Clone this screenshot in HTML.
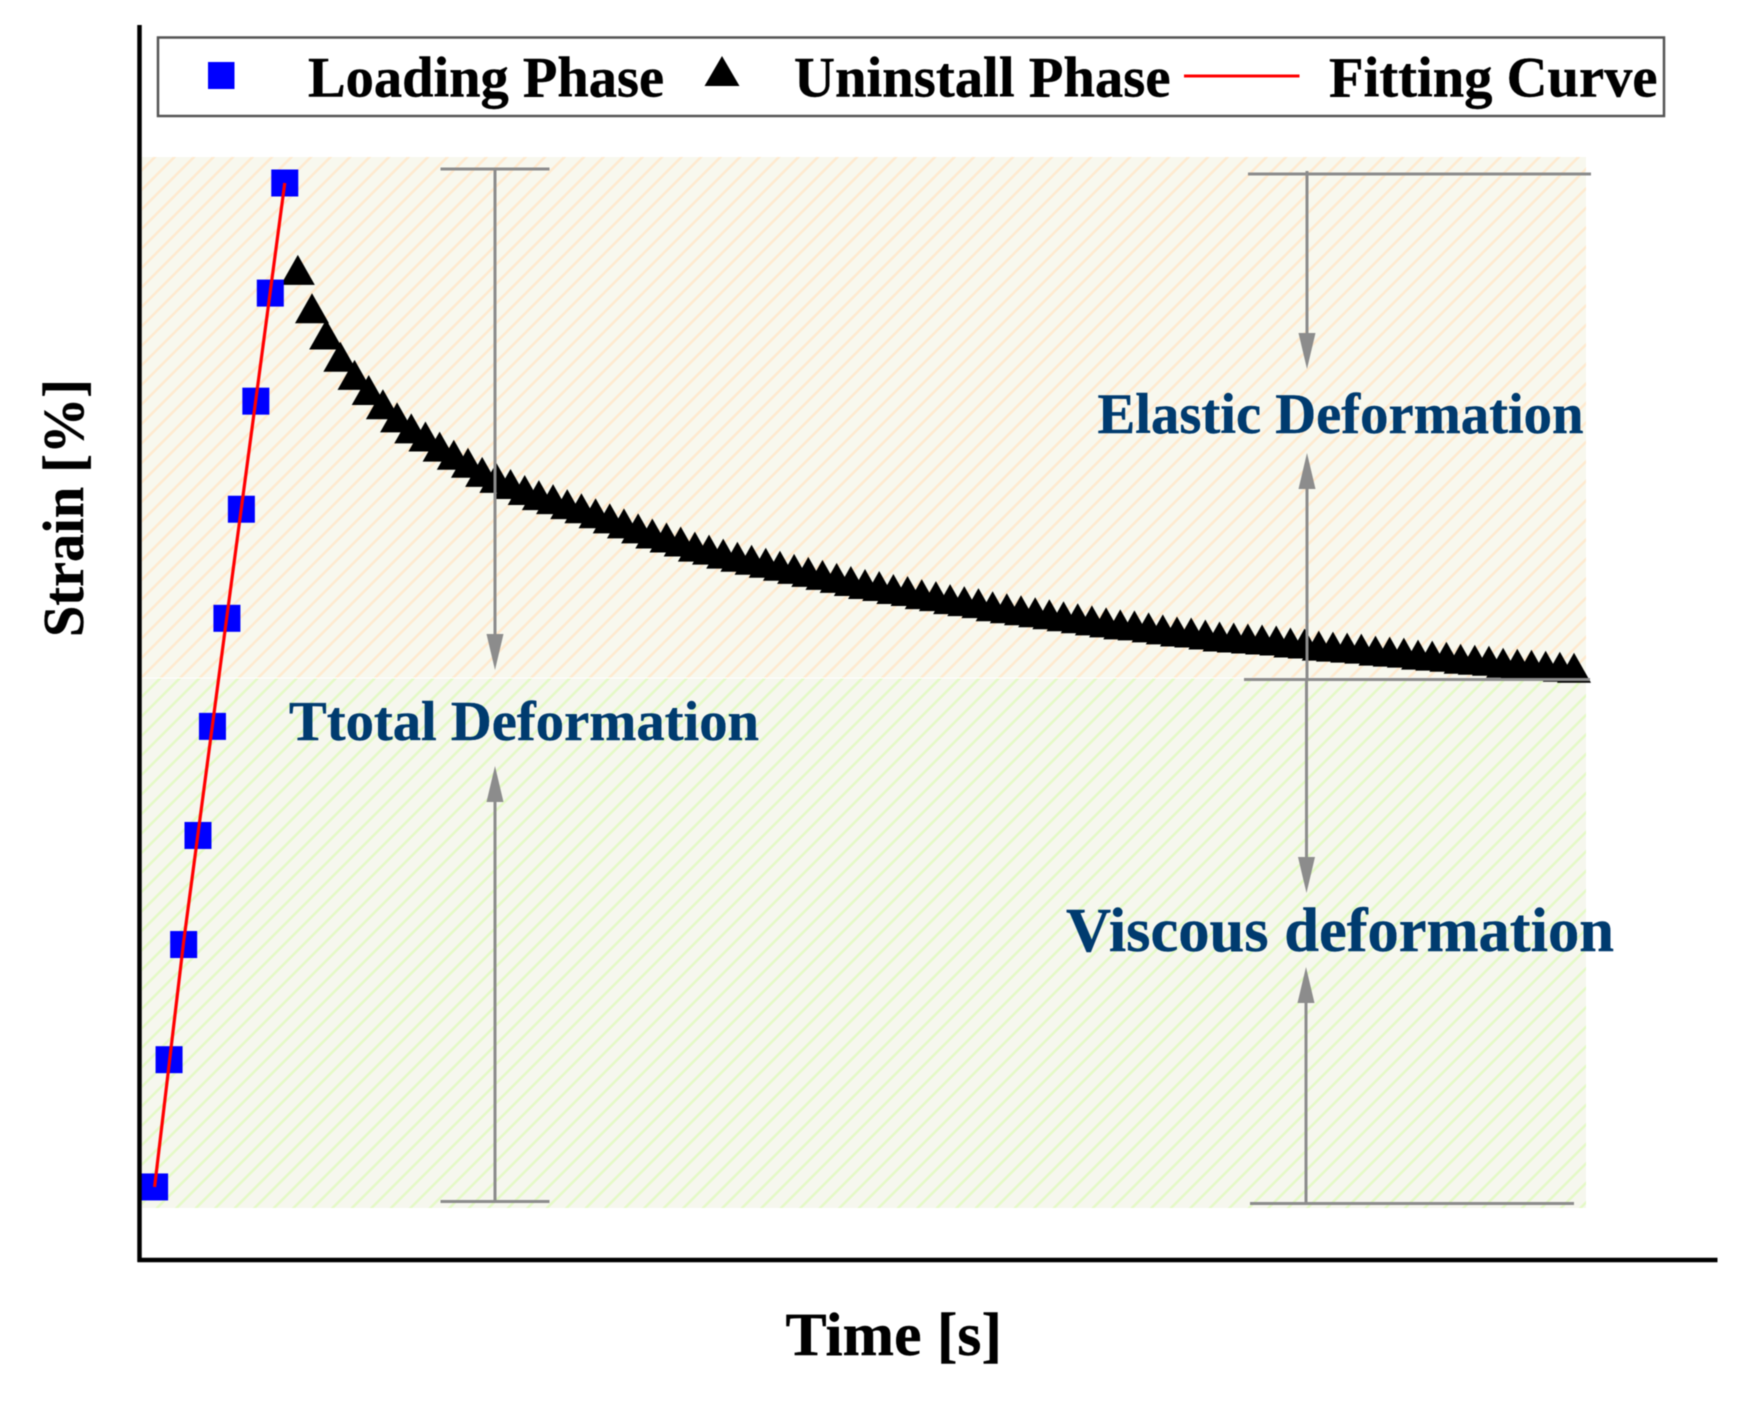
<!DOCTYPE html>
<html lang="en">
<head>
<meta charset="utf-8">
<title>Strain vs Time</title>
<style>
html,body{margin:0;padding:0;background:#fff;width:1744px;height:1415px;overflow:hidden}
svg{display:block;filter:blur(0.5px)}
text{font-family:"Liberation Serif",serif;font-weight:bold;stroke-width:.4px}
.anno{fill:#003b6f;stroke:#003b6f}
.blk{fill:#000;stroke:#000}
.grey{stroke:#8c8c8c;stroke-width:3;fill:none}
.head{fill:#8c8c8c}
</style>
</head>
<body>
<svg id="chart" xmlns="http://www.w3.org/2000/svg" width="1744" height="1415" viewBox="0 0 1744 1415">
  <defs>
    <pattern id="hatch-orange" patternUnits="userSpaceOnUse" width="19.5" height="19.5">
      <rect width="19.5" height="19.5" fill="#f8f8ee"/>
      <path d="M-2,2 L2,-2 M0,19.5 L19.5,0 M17.5,21.5 L21.5,17.5" stroke="#feeacf" stroke-width="2.4"/>
    </pattern>
    <pattern id="hatch-green" patternUnits="userSpaceOnUse" width="19.5" height="19.5">
      <rect width="19.5" height="19.5" fill="#f6f7ee"/>
      <path d="M-2,2 L2,-2 M0,19.5 L19.5,0 M17.5,21.5 L21.5,17.5" stroke="#e4f9c6" stroke-width="2.4"/>
    </pattern>
  </defs>

  <rect x="142" y="157" width="1444" height="520.500" fill="url(#hatch-orange)"/>
  <rect x="142" y="678.500" width="1444" height="529.500" fill="url(#hatch-green)"/>

  <g id="marks"></g>

  <g>
    <path class="grey" d="M440.500,169H549.500"/>
    <path class="grey" d="M495,169V638"/>
    <path class="head" d="M486.500,634H503.500L495,670Z"/>
    <path class="grey" d="M495,797V1201.500"/>
    <path class="head" d="M486.500,802H503.500L495,766Z"/>
    <path class="grey" d="M440.500,1201.500H549.500"/>
  </g>
  <g>
    <path class="grey" d="M1248,174H1591"/>
    <path class="grey" d="M1307,171V338"/>
    <path class="head" d="M1298.500,333H1315.500L1307,369Z"/>
    <path class="grey" d="M1307,484V680"/>
    <path class="head" d="M1298.500,489H1315.500L1307,453Z"/>
    <path class="grey" d="M1244,679.500H1590"/>
  </g>
  <g>
    <path class="grey" d="M1306.500,680V862"/>
    <path class="head" d="M1298,857H1315L1306.500,893Z"/>
    <path class="grey" d="M1306,998V1204"/>
    <path class="head" d="M1297.500,1003H1314.500L1306,967Z"/>
    <path class="grey" d="M1250,1203.500H1574"/>
  </g>

  <text class="anno" x="1097.500" y="433" font-size="57" textLength="486" lengthAdjust="spacingAndGlyphs">Elastic Deformation</text>
  <text class="anno" x="289" y="740" font-size="56.500" textLength="470" lengthAdjust="spacingAndGlyphs">Ttotal Deformation</text>
  <text class="anno" x="1066" y="951" font-size="62" textLength="548" lengthAdjust="spacingAndGlyphs">Viscous deformation</text>

  <path d="M139.500,25V1262" stroke="#000" stroke-width="4.500" fill="none"/>
  <path d="M137.500,1260H1717.500" stroke="#000" stroke-width="4.500" fill="none"/>
  <text class="blk" x="785.500" y="1355" font-size="61" textLength="216.500" lengthAdjust="spacingAndGlyphs">Time [s]</text>
  <text class="blk" transform="translate(83,637) rotate(-90)" font-size="58" textLength="258" lengthAdjust="spacingAndGlyphs">Strain [%]</text>

  <g>
    <rect x="158" y="37.500" width="1506" height="78.500" fill="#fff" stroke="#555" stroke-width="2.500"/>
    <rect x="208" y="62" width="26.500" height="27" fill="#0000ff"/>
    <text class="blk" x="308" y="96.500" font-size="57" textLength="356" lengthAdjust="spacingAndGlyphs">Loading Phase</text>
    <path d="M704.500,86H739.500L722,56Z" fill="#000"/>
    <text class="blk" x="794" y="96.500" font-size="57" textLength="376.500" lengthAdjust="spacingAndGlyphs">Uninstall Phase</text>
    <path d="M1184,76H1299.500" stroke="#ff0000" stroke-width="3" fill="none"/>
    <text class="blk" x="1329" y="96.500" font-size="57" textLength="328.500" lengthAdjust="spacingAndGlyphs">Fitting Curve</text>
  </g>
</svg>
<script>
const loadingTime = [0, 1.02, 2.05, 3.06, 4.08, 5.1, 6.12, 7.14, 8.16, 9.18];
const loadingStrain = [0.6, 13.2, 24.6, 35.4, 46.2, 56.9, 67.7, 78.4, 89.1, 100];
const fitTime = [0, 2.05, 5.1, 9.18];
const fitStrain = [0.6, 24.9, 57.1, 100];
const uninstallTime = [
  10.1, 11.1, 12.1, 13.1, 14.1, 15.1, 16.1, 17.1, 18.1, 19.1,
  20.1, 21.1, 22.1, 23.1, 24.1, 25.1, 26.1, 27.1, 28.1, 29.1,
  30.1, 31.1, 32.1, 33.1, 34.1, 35.1, 36.1, 37.1, 38.1, 39.1,
  40.1, 41.1, 42.1, 43.1, 44.1, 45.1, 46.1, 47.1, 48.1, 49.1,
  50.1, 51.1, 52.1, 53.1, 54.1, 55.1, 56.1, 57.1, 58.1, 59.1,
  60.1, 61.1, 62.1, 63.1, 64.1, 65.1, 66.1, 67.1, 68.1, 69.1,
  70.1, 71.1, 72.1, 73.1, 74.1, 75.1, 76.1, 77.1, 78.1, 79.1,
  80.1, 81.1, 82.1, 83.1, 84.1, 85.1, 86.1, 87.1, 88.1, 89.1,
  90.1, 91.1, 92.1, 93.1, 94.1, 95.1, 96.1, 97.1, 98.1, 99.1, 100.1
];
const uninstallStrain = [
  91.4, 87.6, 85.0, 82.8, 81.0, 79.5, 78.1, 76.8, 75.7, 74.9,
  73.9, 73.1, 72.3, 71.4, 70.8, 70.2, 69.6, 69.1, 68.7, 68.2,
  67.8, 67.3, 66.8, 66.3, 65.8, 65.3, 64.9, 64.5, 64.0, 63.7,
  63.3, 63.0, 62.7, 62.4, 62.1, 61.8, 61.5, 61.2, 60.9, 60.6,
  60.3, 60.1, 59.8, 59.6, 59.3, 59.1, 58.8, 58.6, 58.4, 58.1,
  57.9, 57.7, 57.5, 57.3, 57.1, 56.9, 56.7, 56.5, 56.3, 56.2,
  56.0, 55.8, 55.6, 55.5, 55.3, 55.1, 55.0, 54.9, 54.8, 54.7,
  54.5, 54.4, 54.2, 54.1, 54.0, 53.9, 53.7, 53.6, 53.5, 53.3,
  53.2, 53.1, 52.9, 52.8, 52.7, 52.5, 52.4, 52.3, 52.2, 52.1, 52.0
];

function xScale(t) { return 154.6 + t * 14.18; }
function yScale(s) { return 1193 - s * 10.1; }

const NS = 'http://www.w3.org/2000/svg';
const marks = document.getElementById('marks');

uninstallTime.forEach(function (t, i) {
  const x = xScale(t), y = yScale(uninstallStrain[i]);
  const tri = document.createElementNS(NS, 'path');
  tri.setAttribute('d', 'M' + (x - 17) + ',' + (y + 15) + 'H' + (x + 17) + 'L' + x + ',' + (y - 15) + 'Z');
  tri.setAttribute('fill', '#000');
  
  
  marks.appendChild(tri);
});

loadingTime.forEach(function (t, i) {
  const x = xScale(t), y = yScale(loadingStrain[i]);
  const sq = document.createElementNS(NS, 'rect');
  sq.setAttribute('x', x - 13.5);
  sq.setAttribute('y', y - 13.5);
  sq.setAttribute('width', 27);
  sq.setAttribute('height', 27);
  sq.setAttribute('fill', '#0000ff');
  
  
  marks.appendChild(sq);
});

const fit = document.createElementNS(NS, 'polyline');
fit.setAttribute('points', fitTime.map(function (t, i) {
  return xScale(t) + ',' + yScale(fitStrain[i]);
}).join(' '));
fit.setAttribute('fill', 'none');
fit.setAttribute('stroke', '#ff0000');
fit.setAttribute('stroke-width', '3.2');


marks.appendChild(fit);
</script>
</body>
</html>
